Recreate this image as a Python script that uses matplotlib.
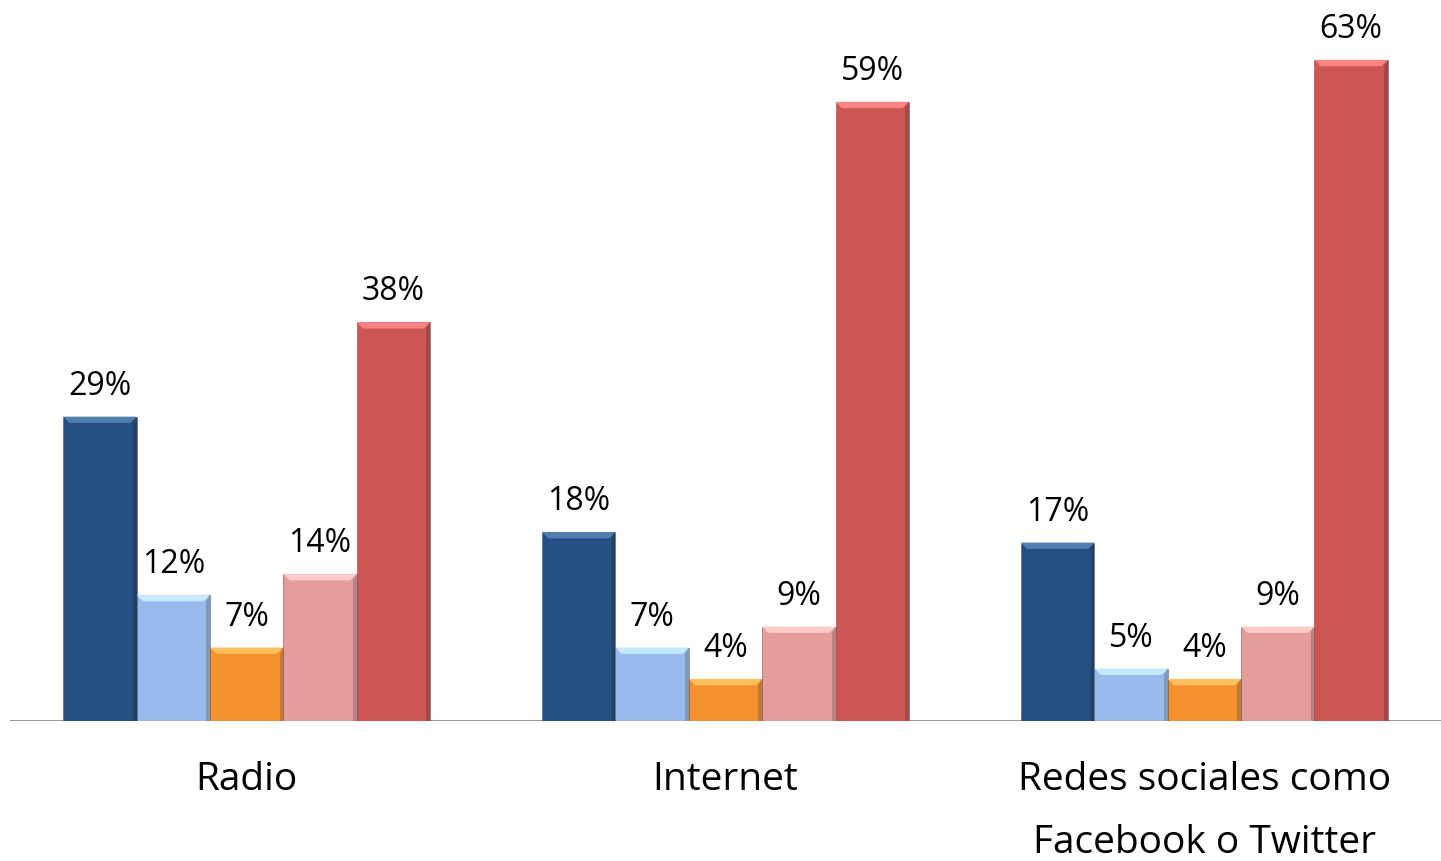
import numpy as np
import matplotlib.pyplot as plt
from matplotlib.patches import Polygon
import matplotlib.colors as mcolors

categories = ['Radio', 'Internet', 'Redes sociales como\nFacebook o Twitter']
series_a = [29, 18, 17]
series_b = [12, 7, 5]
series_c = [7, 4, 4]
series_d = [14, 9, 9]
series_e = [38, 59, 63]
series = [series_a, series_b, series_c, series_d, series_e]
colors = ['#254F80', '#97BBEA', '#F3912F', '#E59D9B', '#CD5655']

plt.rcParams['font.family'] = ['Open Sans', 'DejaVu Sans']

fig = plt.figure(figsize=(14.41, 8.62), dpi=100)
ax = fig.add_axes([0.007, 0.1624, 0.993, 0.8376])

x = np.arange(len(categories))
w = 0.1532
bev_x, bev_y = 0.013, 0.6

for k, (vals, col) in enumerate(zip(series, colors)):
    pos = x + (k - 2) * w
    bars = ax.bar(pos, vals, width=w, color=col, edgecolor=mcolors.to_rgba('#555555', 0.5),
                  linewidth=0.8, zorder=2)
    light = [min(1, c + 0.18) for c in mcolors.to_rgb(col)]
    dark = [c * 0.82 for c in mcolors.to_rgb(col)]
    for b, v in zip(bars, vals):
        x0, x1 = b.get_x(), b.get_x() + b.get_width()
        # bevel: lighter top, darker right edge
        ax.add_patch(Polygon([(x0, v), (x1, v), (x1 - bev_x, v - bev_y), (x0 + bev_x, v - bev_y)],
                             closed=True, facecolor=light, edgecolor='none', zorder=3))
        ax.add_patch(Polygon([(x1, v), (x1, 0), (x1 - bev_x * 0.6, 0), (x1 - bev_x * 0.6, v - bev_y)],
                             closed=True, facecolor=dark, edgecolor='none', zorder=3))
        ax.text(b.get_x() + b.get_width() / 2, v + 3.0, f'{v}%', ha='center', va='center',
                fontsize=23, color='black')

ax.set_xlim(-0.494, 2.494)
ax.set_ylim(0, 68.8)
ax.axhline(0, color='#9a9a9a', linewidth=1.5, zorder=1)
ax.set_yticks([])
ax.set_xticks(x)
ax.set_xticklabels(categories, fontsize=28, linespacing=1.85)
ax.tick_params(axis='x', length=0, pad=28)
for s in ax.spines.values():
    s.set_visible(False)

fig.savefig('out.png', dpi=100)
